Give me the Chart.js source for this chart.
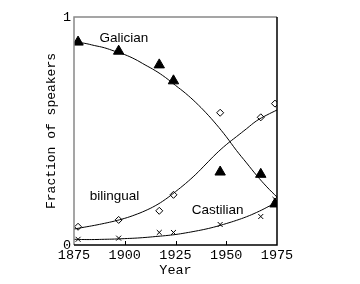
<!DOCTYPE html>
<html lang="en">
  <head>
    <meta charset="UTF-8" />
    <title>Galician, bilingual and Castilian speakers</title>
    <script src="https://cdn.jsdelivr.net/npm/chart.js"></script>
    <style>
      html, body { margin: 0; padding: 0; background: #fff; }
      #wrap { width: 360px; height: 284px; }
    </style>
  </head>
  <body>
    <div id="wrap"><canvas id="chart"></canvas></div>
    <script>
      const obsYears = [1877, 1897, 1917, 1924, 1947, 1967, 1974];
      const galicianObs = [0.89, 0.85, 0.79, 0.72, 0.32, 0.31, 0.18];
      const bilingualObs = [0.08, 0.11, 0.15, 0.22, 0.58, 0.56, 0.62];
      const castilianObs = [0.025, 0.03, 0.055, 0.055, 0.09, 0.125, 0.2];

      // fitted curves, sampled every 5 years
      const fitYears = [1875, 1880, 1885, 1890, 1895, 1900, 1905, 1910, 1915, 1920, 1925,
                        1930, 1935, 1940, 1945, 1950, 1955, 1960, 1965, 1970, 1975];
      const galicianFit = [0.89, 0.885, 0.875, 0.865, 0.85, 0.835, 0.815, 0.79, 0.765, 0.735, 0.70,
                           0.665, 0.625, 0.58, 0.53, 0.475, 0.415, 0.36, 0.305, 0.255, 0.21];
      const bilingualFit = [0.07, 0.078, 0.086, 0.095, 0.105, 0.117, 0.132, 0.15, 0.172, 0.2, 0.234,
                            0.27, 0.31, 0.355, 0.40, 0.44, 0.475, 0.51, 0.545, 0.57, 0.592];
      const castilianFit = [0.025, 0.024, 0.024, 0.025, 0.026, 0.028, 0.03, 0.033, 0.037, 0.041, 0.046,
                            0.053, 0.061, 0.07, 0.081, 0.094, 0.108, 0.124, 0.143, 0.165, 0.19];

      const xTicks = [1875, 1900, 1925, 1950, 1975];
      const yTicks = [0, 1];

      const pts = (xs, ys) => xs.map((x, i) => ({ x: x, y: ys[i] }));
      const mono = "'Liberation Mono', 'DejaVu Sans Mono', monospace";

      // curve labels, placed in data coordinates
      const labels = [
        { text: "Galician", x: 1899.6, y: 0.908 },
        { text: "bilingual", x: 1895, y: 0.212 },
        { text: "Castilian", x: 1945.7, y: 0.154 },
      ];

      const framePlugin = {
        id: "frame",
        afterDraw(chart) {
          const { ctx, chartArea: a, scales } = chart;
          ctx.save();
          // box round the plot
          ctx.lineWidth = 1.5;
          ctx.strokeStyle = "#888";
          ctx.beginPath();
          ctx.moveTo(a.left, a.bottom);
          ctx.lineTo(a.left, a.top);
          ctx.lineTo(a.right, a.top);
          ctx.stroke();
          ctx.strokeStyle = "#000";
          ctx.beginPath();
          ctx.moveTo(a.right, a.top);
          ctx.lineTo(a.right, a.bottom);
          ctx.lineTo(a.left, a.bottom);
          ctx.stroke();
          // little inside ticks on the year axis
          ctx.lineWidth = 1;
          xTicks.slice(1, -1).forEach((v) => {
            const px = Math.round(scales.x.getPixelForValue(v)) + 0.5;
            ctx.beginPath();
            ctx.moveTo(px, a.bottom);
            ctx.lineTo(px, a.bottom - 4);
            ctx.stroke();
          });
          // curve names
          ctx.fillStyle = "#000";
          ctx.font = "13.5px 'Liberation Sans', Arial, sans-serif";
          ctx.textAlign = "center";
          ctx.textBaseline = "middle";
          labels.forEach((l) => {
            ctx.fillText(l.text, scales.x.getPixelForValue(l.x), scales.y.getPixelForValue(l.y));
          });
          ctx.restore();
        },
      };

      new Chart(document.getElementById("chart"), {
        type: "scatter",
        data: {
          datasets: [
            {
              data: pts(fitYears, galicianFit),
              type: "line",
              borderColor: "#000",
              borderWidth: 1,
              pointRadius: 0,
              tension: 0.4,
            },
            {
              data: pts(fitYears, bilingualFit),
              type: "line",
              borderColor: "#000",
              borderWidth: 1,
              pointRadius: 0,
              tension: 0.4,
            },
            {
              data: pts(fitYears, castilianFit),
              type: "line",
              borderColor: "#000",
              borderWidth: 1,
              pointRadius: 0,
              tension: 0.4,
            },
            {
              data: pts(obsYears, galicianObs),
              pointStyle: "triangle",
              pointRadius: 6,
              backgroundColor: "#000",
              borderColor: "#000",
              borderWidth: 1,
            },
            {
              data: pts(obsYears, bilingualObs),
              pointStyle: "rectRot",
              pointRadius: 3.5,
              backgroundColor: "#fff",
              borderColor: "#000",
              borderWidth: 1,
            },
            {
              data: pts(obsYears, castilianObs),
              pointStyle: "crossRot",
              pointRadius: 3.5,
              borderColor: "#000",
              borderWidth: 1,
            },
          ],
        },
        options: {
          responsive: true,
          maintainAspectRatio: false,
          animation: false,
          events: [],
          layout: { padding: { top: 17, right: 83, left: 0, bottom: 0 } },
          plugins: { legend: { display: false }, tooltip: { enabled: false } },
          scales: {
            x: {
              type: "linear",
              min: 1875,
              max: 1975,
              border: { display: false },
              grid: { display: false, drawTicks: false },
              afterBuildTicks: (s) => { s.ticks = xTicks.map((v) => ({ value: v })); },
              afterFit: (s) => { s.height = 39; },
              ticks: {
                color: "#000",
                padding: 2,
                maxRotation: 0,
                font: { family: mono, size: 13.5 },
                callback: (v) => String(v),
              },
              title: {
                display: true,
                text: "Year",
                color: "#000",
                padding: { top: 0, bottom: 5 },
                font: { family: mono, size: 13.5 },
              },
            },
            y: {
              min: 0,
              max: 1,
              border: { display: false },
              grid: { display: false, drawTicks: false },
              afterBuildTicks: (s) => { s.ticks = yTicks.map((v) => ({ value: v })); },
              afterFit: (s) => { s.width = 74; },
              ticks: {
                color: "#000",
                padding: 3,
                font: { family: mono, size: 13.5 },
                callback: (v) => String(v),
              },
              title: {
                display: true,
                text: "Fraction of speakers",
                color: "#000",
                padding: { top: 44, bottom: 0 },
                font: { family: mono, size: 13 },
              },
            },
          },
        },
        plugins: [framePlugin],
      });
    </script>
  </body>
</html>
